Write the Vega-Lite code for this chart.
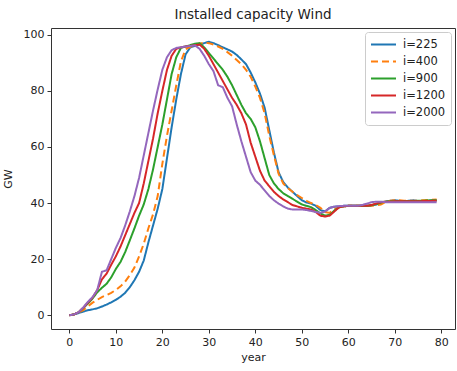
{
  "$schema": "https://vega.github.io/schema/vega-lite/v6.json",
  "autosize": {"type": "none"},
  "width": 404,
  "height": 301,
  "padding": {"left": 51, "top": 28, "right": 2, "bottom": 42},
  "background": "white",
  "config": {
    "view": {"stroke": "#333333", "strokeWidth": 1},
    "font": "DejaVu Sans",
    "axis": {"grid": false, "domain": false, "tickColor": "#333333", "tickSize": 4, "labelColor": "#222222", "labelFontSize": 11, "titleFontSize": 11, "titleFontWeight": "normal", "titleColor": "#222222", "labelPadding": 3}
  },
  "title": {"text": "Installed capacity Wind", "fontSize": 13.5, "fontWeight": "normal", "color": "#222222", "offset": 7, "font": "DejaVu Sans"},
  "data": {"values": [
{"year":0,"i=225":0,"i=400":0,"i=900":0,"i=1200":0,"i=2000":0},
{"year":1,"i=225":0.3,"i=400":0.3,"i=900":0.3,"i=1200":0.3,"i=2000":0.3},
{"year":2,"i=225":0.8,"i=400":1,"i=900":1.1,"i=1200":1.1,"i=2000":1.1},
{"year":3,"i=225":1.3,"i=400":1.8,"i=900":2.6,"i=1200":2.7,"i=2000":2.8},
{"year":4,"i=225":1.8,"i=400":3.2,"i=900":4.2,"i=1200":4.5,"i=2000":4.8},
{"year":5,"i=225":2.1,"i=400":4.5,"i=900":6,"i=1200":6.3,"i=2000":6.5},
{"year":6,"i=225":2.5,"i=400":5.5,"i=900":8.2,"i=1200":9,"i=2000":9},
{"year":7,"i=225":3.1,"i=400":6.5,"i=900":9.8,"i=1200":12.8,"i=2000":15.5},
{"year":8,"i=225":3.8,"i=400":7.2,"i=900":11.2,"i=1200":14.8,"i=2000":16},
{"year":9,"i=225":4.6,"i=400":8,"i=900":13.5,"i=1200":18,"i=2000":20},
{"year":10,"i=225":5.5,"i=400":9,"i=900":16.5,"i=1200":21,"i=2000":24},
{"year":11,"i=225":6.6,"i=400":10.3,"i=900":19,"i=1200":24.5,"i=2000":27.5},
{"year":12,"i=225":8,"i=400":12,"i=900":22.5,"i=1200":28.5,"i=2000":32},
{"year":13,"i=225":10,"i=400":14.3,"i=900":26.7,"i=1200":32.5,"i=2000":37},
{"year":14,"i=225":12.5,"i=400":17,"i=900":31,"i=1200":36.5,"i=2000":42.5},
{"year":15,"i=225":15.5,"i=400":21,"i=900":35.5,"i=1200":40,"i=2000":49},
{"year":16,"i=225":19.5,"i=400":25.5,"i=900":39.5,"i=1200":47,"i=2000":57},
{"year":17,"i=225":26,"i=400":31,"i=900":45,"i=1200":55,"i=2000":65},
{"year":18,"i=225":32,"i=400":36,"i=900":52,"i=1200":63,"i=2000":73},
{"year":19,"i=225":38,"i=400":42.5,"i=900":60,"i=1200":72,"i=2000":80.5},
{"year":20,"i=225":45,"i=400":54,"i=900":68,"i=1200":80,"i=2000":87.5},
{"year":21,"i=225":56,"i=400":64,"i=900":77,"i=1200":87.5,"i=2000":92},
{"year":22,"i=225":67,"i=400":73,"i=900":86,"i=1200":92.5,"i=2000":94.5},
{"year":23,"i=225":77,"i=400":82,"i=900":92,"i=1200":95,"i=2000":95.3},
{"year":24,"i=225":86,"i=400":90.5,"i=900":95.3,"i=1200":95.5,"i=2000":95.5},
{"year":25,"i=225":93,"i=400":94.8,"i=900":95.8,"i=1200":95.8,"i=2000":95.8},
{"year":26,"i=225":95.5,"i=400":95.7,"i=900":96.3,"i=1200":96,"i=2000":96},
{"year":27,"i=225":96,"i=400":96.2,"i=900":96.8,"i=1200":96.3,"i=2000":96.2},
{"year":28,"i=225":96.5,"i=400":96.8,"i=900":97,"i=1200":96.5,"i=2000":95},
{"year":29,"i=225":97,"i=400":97.2,"i=900":95.5,"i=1200":95,"i=2000":92.5},
{"year":30,"i=225":97.5,"i=400":97,"i=900":93.5,"i=1200":92.5,"i=2000":89.5},
{"year":31,"i=225":97,"i=400":96.5,"i=900":91.5,"i=1200":89.5,"i=2000":87},
{"year":32,"i=225":96.3,"i=400":95.8,"i=900":89.5,"i=1200":86.5,"i=2000":82},
{"year":33,"i=225":95.5,"i=400":95,"i=900":87.5,"i=1200":83.5,"i=2000":81.3},
{"year":34,"i=225":94.8,"i=400":93.8,"i=900":85,"i=1200":80.5,"i=2000":77.5},
{"year":35,"i=225":94,"i=400":92.5,"i=900":82,"i=1200":77.5,"i=2000":74.5},
{"year":36,"i=225":92.8,"i=400":91,"i=900":78.5,"i=1200":75,"i=2000":68},
{"year":37,"i=225":91.2,"i=400":89.5,"i=900":75,"i=1200":72,"i=2000":62},
{"year":38,"i=225":89.5,"i=400":87.5,"i=900":72,"i=1200":68,"i=2000":56.5},
{"year":39,"i=225":86.5,"i=400":85,"i=900":70,"i=1200":61.5,"i=2000":51},
{"year":40,"i=225":83,"i=400":81.5,"i=900":67,"i=1200":56.5,"i=2000":48},
{"year":41,"i=225":79,"i=400":77.5,"i=900":62,"i=1200":51.5,"i=2000":46.5},
{"year":42,"i=225":74,"i=400":72,"i=900":56,"i=1200":48,"i=2000":44.5},
{"year":43,"i=225":66,"i=400":64,"i=900":50,"i=1200":46,"i=2000":42.5},
{"year":44,"i=225":58,"i=400":57,"i=900":47,"i=1200":44,"i=2000":41},
{"year":45,"i=225":51,"i=400":50.5,"i=900":45,"i=1200":42.5,"i=2000":39.8},
{"year":46,"i=225":47.5,"i=400":47,"i=900":43.5,"i=1200":41.3,"i=2000":38.8},
{"year":47,"i=225":45.5,"i=400":45.3,"i=900":42.5,"i=1200":40.3,"i=2000":38},
{"year":48,"i=225":44,"i=400":44,"i=900":41.5,"i=1200":39.3,"i=2000":37.7},
{"year":49,"i=225":42.5,"i=400":42.8,"i=900":40.5,"i=1200":38.8,"i=2000":37.7},
{"year":50,"i=225":41,"i=400":41.8,"i=900":39.5,"i=1200":38.3,"i=2000":37.7},
{"year":51,"i=225":40.2,"i=400":40.8,"i=900":39,"i=1200":38,"i=2000":37.5},
{"year":52,"i=225":39.8,"i=400":40,"i=900":38.5,"i=1200":37.7,"i=2000":37.2},
{"year":53,"i=225":39,"i=400":39.3,"i=900":37.5,"i=1200":36.8,"i=2000":36.8},
{"year":54,"i=225":37.5,"i=400":38.3,"i=900":36.3,"i=1200":35.5,"i=2000":36.5},
{"year":55,"i=225":37,"i=400":36.8,"i=900":35.5,"i=1200":35.2,"i=2000":37},
{"year":56,"i=225":38.3,"i=400":36.5,"i=900":35.8,"i=1200":35.5,"i=2000":38.3},
{"year":57,"i=225":38.7,"i=400":37.8,"i=900":37.3,"i=1200":37,"i=2000":38.7},
{"year":58,"i=225":38.8,"i=400":38.5,"i=900":38.5,"i=1200":38.5,"i=2000":38.9},
{"year":59,"i=225":39,"i=400":38.8,"i=900":38.8,"i=1200":38.8,"i=2000":39},
{"year":60,"i=225":39,"i=400":39,"i=900":39,"i=1200":39,"i=2000":39},
{"year":61,"i=225":39,"i=400":39,"i=900":39,"i=1200":39,"i=2000":39},
{"year":62,"i=225":39,"i=400":39,"i=900":39,"i=1200":39,"i=2000":39},
{"year":63,"i=225":39,"i=400":39,"i=900":39,"i=1200":39,"i=2000":39.3},
{"year":64,"i=225":39,"i=400":39,"i=900":39,"i=1200":39,"i=2000":39.8},
{"year":65,"i=225":39.2,"i=400":39,"i=900":39.2,"i=1200":39.3,"i=2000":40.3},
{"year":66,"i=225":39.5,"i=400":39.2,"i=900":39.6,"i=1200":39.8,"i=2000":40.5},
{"year":67,"i=225":40,"i=400":39.5,"i=900":40.2,"i=1200":40.3,"i=2000":40.5},
{"year":68,"i=225":40.5,"i=400":40.3,"i=900":40.5,"i=1200":40.5,"i=2000":40.3},
{"year":69,"i=225":40.8,"i=400":40.8,"i=900":40.6,"i=1200":40.5,"i=2000":40.3},
{"year":70,"i=225":41,"i=400":41,"i=900":40.6,"i=1200":40.6,"i=2000":40.3},
{"year":71,"i=225":40.8,"i=400":41,"i=900":40.6,"i=1200":40.6,"i=2000":40.3},
{"year":72,"i=225":40.6,"i=400":40.8,"i=900":40.7,"i=1200":40.6,"i=2000":40.3},
{"year":73,"i=225":40.8,"i=400":40.8,"i=900":40.7,"i=1200":40.6,"i=2000":40.3},
{"year":74,"i=225":41,"i=400":40.8,"i=900":40.7,"i=1200":40.6,"i=2000":40.3},
{"year":75,"i=225":40.7,"i=400":40.8,"i=900":40.8,"i=1200":40.6,"i=2000":40.3},
{"year":76,"i=225":40.7,"i=400":41,"i=900":40.8,"i=1200":40.7,"i=2000":40.3},
{"year":77,"i=225":40.8,"i=400":41.1,"i=900":40.9,"i=1200":40.7,"i=2000":40.3},
{"year":78,"i=225":40.9,"i=400":41.2,"i=900":41,"i=1200":40.8,"i=2000":40.3},
{"year":79,"i=225":41,"i=400":41.3,"i=900":41,"i=1200":40.8,"i=2000":40.3}
  ]},
  "transform": [{"fold": ["i=225", "i=400", "i=900", "i=1200", "i=2000"], "as": ["series", "GW"]}],
  "mark": {"type": "line", "strokeWidth": 2, "clip": true},
  "encoding": {
    "x": {"field": "year", "type": "quantitative", "scale": {"domain": [-3.95, 82.95], "nice": false, "zero": false},
      "axis": {"values": [0, 10, 20, 30, 40, 50, 60, 70, 80], "title": "year", "titlePadding": 4}},
    "y": {"field": "GW", "type": "quantitative", "scale": {"domain": [-4.9, 102.4], "nice": false, "zero": false},
      "axis": {"values": [0, 20, 40, 60, 80, 100], "title": "GW", "titlePadding": 10}},
    "color": {"field": "series", "type": "nominal",
      "scale": {"domain": ["i=225", "i=400", "i=900", "i=1200", "i=2000"], "range": ["#1f77b4", "#ff7f0e", "#2ca02c", "#d62728", "#9467bd"]},
      "legend": {"title": null, "orient": "none", "legendX": 314, "legendY": 4, "symbolType": "stroke", "symbolSize": 625, "symbolStrokeWidth": 2, "labelFontSize": 11.5, "labelColor": "#222222", "clipHeight": 15, "rowPadding": 2, "padding": 5, "fillColor": "white", "strokeColor": "#cccccc", "cornerRadius": 3, "labelOffset": 6}},
    "strokeDash": {"field": "series", "type": "nominal",
      "scale": {"domain": ["i=225", "i=400", "i=900", "i=1200", "i=2000"], "range": [[1, 0], [7, 4], [1, 0], [1, 0], [1, 0]]},
      "legend": {"title": null, "orient": "none", "legendX": 314, "legendY": 4, "symbolType": "stroke", "symbolSize": 625, "symbolStrokeWidth": 2, "labelFontSize": 11.5, "labelColor": "#222222", "clipHeight": 15, "rowPadding": 2, "padding": 5, "fillColor": "white", "strokeColor": "#cccccc", "cornerRadius": 3, "labelOffset": 6}}
  }
}
